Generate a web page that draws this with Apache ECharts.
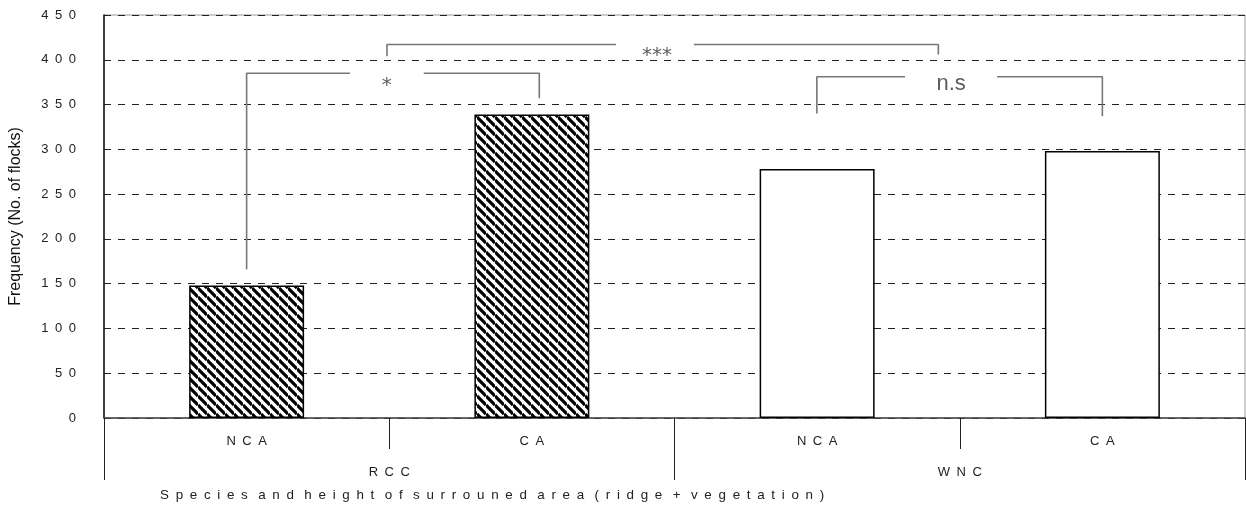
<!DOCTYPE html>
<html>
<head>
<meta charset="utf-8">
<script src="https://cdn.jsdelivr.net/npm/echarts@6/dist/echarts.min.js"></script>
<style>
  html, body { margin: 0; padding: 0; background: #fff; }
  #chart { width: 1246px; height: 507px; }
</style>
</head>
<body>
<div id="chart"></div>
<script>
// data
const categories = ['NCA', 'CA', 'NCA', 'CA'];
const groups = ['RCC', 'WNC'];
const counts = [148, 339, 278, 298];
const hatched = [true, true, false, false];
const xTitle = 'Species and height of surrouned area (ridge + vegetation)';

// significance brackets, in (bar index, frequency) units
const bracketStar = [
  [[0, 166], [0, 385], [0.362, 385]],
  [[0.621, 385], [1.026, 385], [1.026, 357]]
];
const bracketTriple = [
  [[0.492, 404], [0.492, 417], [1.295, 417]],
  [[1.568, 417], [2.425, 417], [2.425, 406]]
];
const bracketNs = [
  [[1.999, 340], [1.999, 381], [2.308, 381]],
  [[2.631, 381], [3.0, 381], [3.0, 337]]
];
const sigNames = ['*', '***', 'n.s'];
const sigPos = [[0.491, 371], [1.439, 405], [2.47, 373]];

const font = '"Liberation Sans", Arial, sans-serif';
const spaced = s => String(s).split('').join('\u2002');

function stripes() {
  const s = 9;
  const c = document.createElement('canvas');
  c.width = c.height = s;
  const g = c.getContext('2d');
  g.fillStyle = '#fff';
  g.fillRect(0, 0, s, s);
  g.strokeStyle = '#000';
  g.lineWidth = 3.2;
  g.beginPath();
  for (let k = -1; k <= 1; k++) {
    g.moveTo(0, k * s);
    g.lineTo(s, s + k * s);
  }
  g.stroke();
  return c;
}

const chart = echarts.init(document.getElementById('chart'));

const barData = counts.map((v, i) => ({
  value: v,
  itemStyle: {
    color: hatched[i] ? { image: stripes(), repeat: 'repeat' } : '#fff'
  }
}));

const bracketSeries = [];
[bracketStar, bracketTriple, bracketNs].forEach(b => {
  b.forEach(seg => {
    bracketSeries.push({
      type: 'line',
      xAxisIndex: 2,
      data: seg,
      symbol: 'none',
      silent: true,
      lineStyle: { color: '#777', width: 1.6 },
      z: 5
    });
  });
});

const sigData = sigPos.map((p, i) => ({
  name: sigNames[i],
  value: p,
  label: {
    fontFamily: sigNames[i] === 'n.s' ? font : '"DejaVu Sans", sans-serif',
    fontSize: sigNames[i] === 'n.s' ? 22 : 20
  }
}));

const option = {
  animation: false,
  textStyle: { fontFamily: font },
  title: {
    text: xTitle.split(' ').map(spaced).join(' \u2002'),
    left: 160, top: 489,
    padding: 0,
    textStyle: { fontSize: 13.4, fontWeight: 'normal', color: '#222', fontFamily: font }
  },
  grid: {
    left: 103, right: 1, top: 15, bottom: 89,
    show: true, borderColor: '#999', borderWidth: 1
  },
  xAxis: [
    {
      type: 'category',
      data: categories,
      position: 'bottom',
      axisLine: { show: true, lineStyle: { color: '#444', width: 1.5 } },
      axisTick: { show: true, length: 31, lineStyle: { color: '#222', width: 1 } },
      axisLabel: {
        margin: 17, fontSize: 13, color: '#222', fontFamily: font,
        formatter: v => spaced(v)
      }
    },
    {
      type: 'category',
      data: groups,
      position: 'bottom',
      axisLine: { show: false },
      axisTick: { show: true, length: 62, lineStyle: { color: '#222', width: 1 } },
      axisLabel: {
        margin: 48, fontSize: 13, color: '#222', fontFamily: font,
        formatter: v => spaced(v)
      }
    },
    {
      type: 'value',
      min: -0.5, max: 3.5,
      show: false
    }
  ],
  yAxis: {
    type: 'value',
    min: 0, max: 450, interval: 50,
    axisLine: { show: true, onZero: false, lineStyle: { color: '#111', width: 1.5 } },
    axisTick: { show: false },
    axisLabel: {
      margin: 28, fontSize: 13, color: '#222', fontFamily: font,
      formatter: v => spaced(v)
    },
    splitLine: { show: true, lineStyle: { color: '#222', width: 1, type: [7, 7] } },
    name: 'Frequency (No. of flocks)',
    nameLocation: 'middle',
    nameGap: 80,
    nameTextStyle: { fontSize: 16, color: '#111', fontFamily: font }
  },
  series: [
    {
      type: 'bar',
      data: barData,
      barWidth: '40.3%',
      itemStyle: { borderColor: '#000', borderWidth: 1.5 },
      z: 3
    },
    ...bracketSeries,
    {
      type: 'scatter',
      xAxisIndex: 2,
      symbolSize: 0,
      silent: true,
      data: sigData,
      label: {
        show: true,
        position: 'inside',
        formatter: p => p.name,
        color: '#333'
      },
      z: 6
    }
  ]
};

chart.setOption(option);
</script>
</body>
</html>
